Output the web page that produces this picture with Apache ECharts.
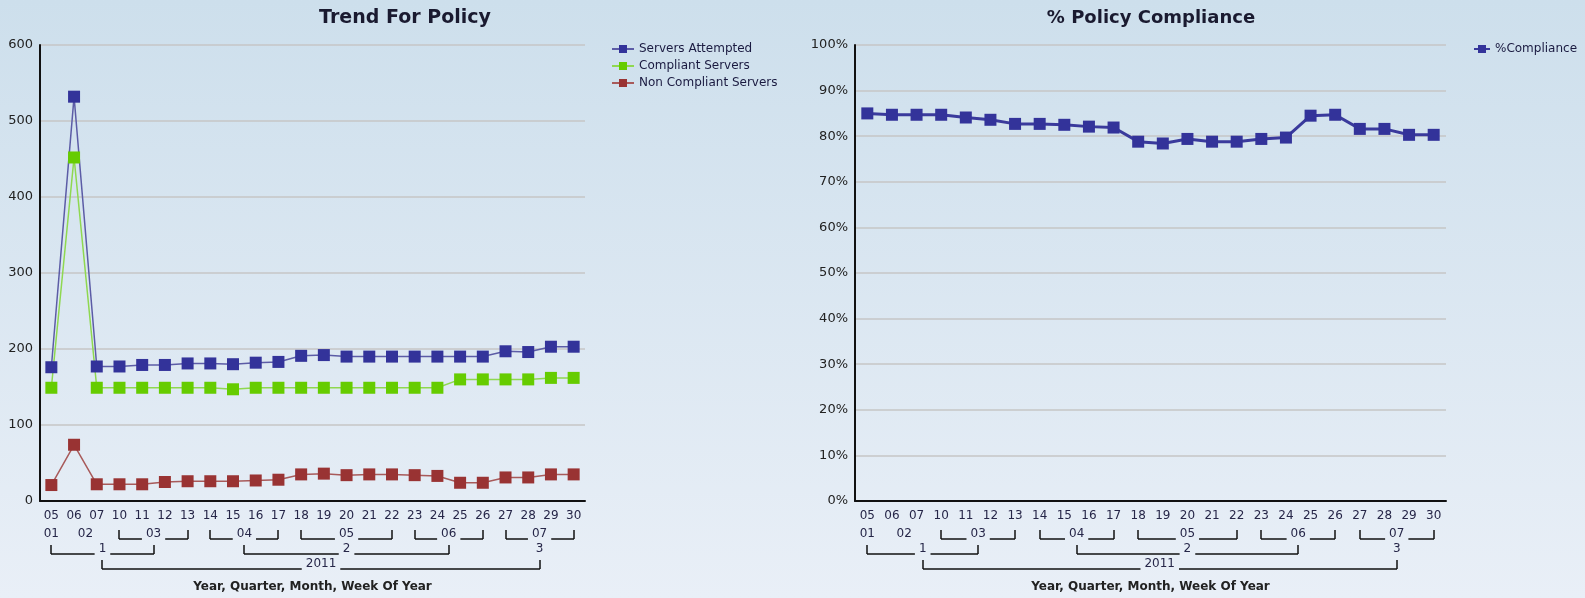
<!DOCTYPE html>
<html>
<head>
<meta charset="utf-8">
<title>Policy trend</title>
<script src="https://cdn.jsdelivr.net/npm/echarts@6.0.0/dist/echarts.min.js"></script>
<style>
  html, body { margin: 0; padding: 0; }
  body { background: linear-gradient(#cddfec, #e9eff7); }
  #chart { width: 1585px; height: 598px; }
</style>
</head>
<body>
<div id="chart"></div>
<script>
// x axis levels: week of year, then month / quarter / year groups
var weeks = ['05', '06', '07', '10', '11', '12', '13', '14', '15', '16', '17', '18',
             '19', '20', '21', '22', '23', '24', '25', '26', '27', '28', '29', '30'];
var weekMonth = ['01', '02', '02', '03', '03', '03', '03', '04', '04', '04', '04', '05',
                 '05', '05', '05', '05', '06', '06', '06', '06', '07', '07', '07', '07'];
var months = ['01', '02', '03', '04', '05', '06', '07'];
var monthQuarter = ['1', '1', '1', '2', '2', '2', '3'];
var quarters = ['1', '2', '3'];
var quarterYear = ['2011', '2011', '2011'];

// left chart
var attempted = [176, 532, 177, 177, 179, 179, 181, 181, 180, 182, 183, 191,
                 192, 190, 190, 190, 190, 190, 190, 190, 197, 196, 203, 203];
var compliant = [149, 452, 149, 149, 149, 149, 149, 149, 147, 149, 149, 149,
                 149, 149, 149, 149, 149, 149, 160, 160, 160, 160, 162, 162];
var nonCompliant = [21, 74, 22, 22, 22, 25, 26, 26, 26, 27, 28, 35,
                    36, 34, 35, 35, 34, 33, 24, 24, 31, 31, 35, 35];
// right chart
var compliance = [85.0, 84.7, 84.7, 84.7, 84.1, 83.6, 82.7, 82.7, 82.5, 82.1, 81.9, 78.8,
                  78.4, 79.4, 78.8, 78.8, 79.4, 79.7, 84.5, 84.7, 81.6, 81.6, 80.3, 80.3];

var FONT = 'DejaVu Sans';
var labelColor = '#262648';

var chart = echarts.init(document.getElementById('chart'));

function xAxisCfg(grid) {
  return {
    type: 'category',
    gridIndex: grid,
    data: weeks,
    boundaryGap: true,
    axisTick: { show: false },
    axisLine: { lineStyle: { color: '#111', width: 2 } },
    axisLabel: { interval: 0, margin: 9, color: labelColor, fontSize: 12, fontFamily: FONT },
    name: 'Year, Quarter, Month, Week Of Year',
    nameLocation: 'middle',
    nameGap: 80,
    nameTextStyle: { color: '#222', fontWeight: 'bold', fontSize: 12, fontFamily: FONT }
  };
}

function yAxisCfg(grid, max, interval, fmt) {
  return {
    type: 'value',
    gridIndex: grid,
    min: 0,
    max: max,
    interval: interval,
    axisLine: { show: true, lineStyle: { color: '#111', width: 2 } },
    axisTick: { show: false },
    axisLabel: { margin: 7, color: '#222', fontSize: 13, fontFamily: FONT, formatter: fmt },
    splitLine: { lineStyle: { color: '#c6c6c6', width: 1.5 } }
  };
}

function lineSeries(name, data, color, lineColor, width, axis) {
  return {
    name: name,
    type: 'line',
    xAxisIndex: axis,
    yAxisIndex: axis,
    data: data,
    symbol: 'rect',
    symbolSize: 12,
    itemStyle: { color: color },
    lineStyle: { color: lineColor, width: width },
    animation: false
  };
}

var option = {
  backgroundColor: 'transparent',
  title: [
    {
      text: 'Trend For Policy', left: 400, top: 4, textAlign: 'center',
      textStyle: { fontSize: 19, fontWeight: 'bold', color: '#1a1a30', fontFamily: FONT }
    },
    {
      text: '% Policy Compliance', left: 1146, top: 4, textAlign: 'center',
      textStyle: { fontSize: 18, fontWeight: 'bold', color: '#1a1a30', fontFamily: FONT }
    }
  ],
  legend: [
    {
      orient: 'vertical', left: 606, top: 38, itemWidth: 22, itemHeight: 10, itemGap: 5,
      data: ['Servers Attempted', 'Compliant Servers', 'Non Compliant Servers'],
      textStyle: { color: '#1a1a40', fontSize: 12, fontFamily: FONT }
    },
    {
      orient: 'vertical', left: 1468, top: 38, itemWidth: 16, itemHeight: 10,
      data: ['%Compliance'],
      textStyle: { color: '#1a1a40', fontSize: 12, fontFamily: FONT }
    }
  ],
  grid: [
    { left: 40, top: 45, width: 545, height: 457 },
    { left: 855, top: 45, width: 591, height: 457 }
  ],
  xAxis: [xAxisCfg(0), xAxisCfg(1)],
  yAxis: [
    yAxisCfg(0, 600, 100, '{value}'),
    yAxisCfg(1, 100, 10, '{value}%')
  ],
  series: [
    lineSeries('Servers Attempted', attempted, '#33339a', '#5c5ca6', 1.5, 0),
    lineSeries('Compliant Servers', compliant, '#66cc00', '#8fd850', 1.5, 0),
    lineSeries('Non Compliant Servers', nonCompliant, '#993333', '#a85a5a', 1.5, 0),
    lineSeries('%Compliance', compliance, '#33339a', '#3a3a9c', 3, 1)
  ]
};

chart.setOption(option);

// group brackets under the week labels, placed from the axis scale
var measureCtx = document.createElement('canvas').getContext('2d');
function textWidth(t) {
  measureCtx.font = '12px ' + FONT;
  return measureCtx.measureText(t).width;
}

function groupRuns(keys, xs) {
  var out = [];
  for (var i = 0; i < keys.length; i++) {
    var last = out[out.length - 1];
    if (last && last.label === keys[i]) {
      last.x1 = xs[i];
    } else {
      out.push({ label: keys[i], x0: xs[i], x1: xs[i] });
    }
  }
  out.forEach(function (g) { g.cx = (g.x0 + g.x1) / 2; });
  return out;
}

function rowGraphics(groups, textY, els) {
  groups.forEach(function (g) {
    var tw = textWidth(g.label);
    els.push({
      type: 'text', x: g.cx, y: textY, silent: true,
      style: { text: g.label, fill: labelColor, font: '12px ' + FONT, align: 'center', verticalAlign: 'middle' }
    });
    if (g.x1 - g.x0 < tw + 16) return;
    var top = Math.round(textY - 4), bot = Math.round(textY + 5);
    var a = Math.round(g.x0), b = Math.round(g.x1);
    var s = { stroke: '#111', lineWidth: 1.5 };
    els.push({ type: 'line', silent: true, shape: { x1: a, y1: top, x2: a, y2: bot }, style: s });
    els.push({ type: 'line', silent: true, shape: { x1: b, y1: top, x2: b, y2: bot }, style: s });
    els.push({ type: 'line', silent: true, shape: { x1: a, y1: bot, x2: g.cx - tw / 2 - 4, y2: bot }, style: s });
    els.push({ type: 'line', silent: true, shape: { x1: g.cx + tw / 2 + 4, y1: bot, x2: b, y2: bot }, style: s });
  });
}

function brackets(axis) {
  var els = [];
  var xs = weeks.map(function (w, i) { return chart.convertToPixel({ xAxisIndex: axis }, i); });
  var mg = groupRuns(weekMonth, xs);
  var qKeys = mg.map(function (g) { return monthQuarter[months.indexOf(g.label)]; });
  var qg = groupRuns(qKeys, mg.map(function (g) { return g.cx; }));
  var yKeys = qg.map(function (g) { return quarterYear[quarters.indexOf(g.label)]; });
  var yg = groupRuns(yKeys, qg.map(function (g) { return g.cx; }));
  rowGraphics(mg, 533.5, els);
  rowGraphics(qg, 548.5, els);
  rowGraphics(yg, 563.5, els);
  return els;
}

chart.setOption({ graphic: brackets(0).concat(brackets(1)) });
</script>
</body>
</html>
